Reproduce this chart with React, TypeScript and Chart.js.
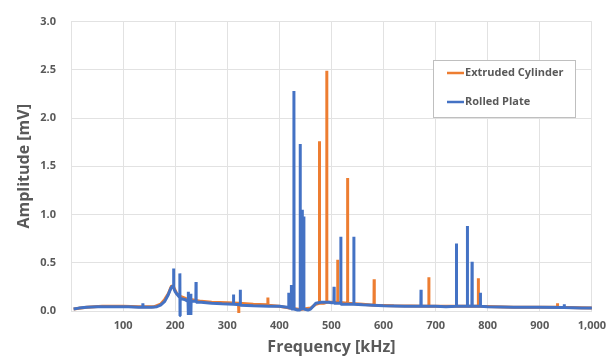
import React, { useEffect, useRef } from "react";
import { Chart, registerables } from "chart.js";

Chart.register(...registerables);

// Rolled Plate (blue) — frequency [kHz] and amplitude [mV]
const rolledFreq = [
  5, 15, 30, 50, 80, 110, 130, 137.7, 138, 138.3, 155, 165, 172, 180, 186, 192, 195,
  196.7, 197, 197.3, 200, 204, 208.7, 209, 209.3, 209.6, 218, 224.7, 225, 225.3, 225.6,
  229.7, 230, 230.3, 230.6, 239.7, 240, 240.3, 250, 270, 290, 311.7, 312, 312.3,
  324.7, 325, 325.3, 350, 380, 400, 415, 417.7, 418, 418.3, 422.7, 423, 423.3,
  427.7, 428, 428.3, 435, 439.7, 440, 440.3, 443.7, 444, 444.3, 446.7, 447, 447.3,
  455, 460, 465, 470, 480, 495, 500, 504.7, 505, 505.3, 512, 517.7, 518, 518.3,
  525, 530, 542.7, 543, 543.3, 560, 580, 600, 640, 670, 671.7, 672, 672.3,
  690, 700, 720, 739.7, 740, 740.3, 760.7, 761, 761.3, 769.7, 770, 770.3,
  785.7, 786, 786.3, 800, 850, 900, 946.7, 947, 947.3, 980, 1000,
];
const rolledAmp = [
  0.02, 0.03, 0.04, 0.045, 0.045, 0.045, 0.04, 0.04, 0.08, 0.04, 0.04, 0.045, 0.06, 0.1, 0.16, 0.24, 0.26,
  0.25, 0.44, 0.24, 0.2, 0.17, 0.14, 0.39, -0.05, 0.13, 0.12, 0.1, 0.2, -0.04, 0.1,
  0.1, 0.18, -0.04, 0.1, 0.1, 0.3, 0.09, 0.09, 0.08, 0.075, 0.07, 0.17, 0.07,
  0.065, 0.22, 0.06, 0.055, 0.05, 0.05, 0.04, 0.04, 0.19, 0.03, 0.03, 0.27, 0.02,
  0.02, 2.28, 0.02, 0.01, 0.01, 1.73, 0.02, 0.02, 1.05, 0.03, 0.03, 0.98, 0.02,
  0.01, 0.02, 0.05, 0.08, 0.09, 0.09, 0.085, 0.085, 0.25, 0.08, 0.08, 0.08, 0.77, 0.07,
  0.07, 0.07, 0.07, 0.77, 0.07, 0.065, 0.06, 0.055, 0.05, 0.05, 0.05, 0.22, 0.05,
  0.05, 0.05, 0.045, 0.05, 0.7, 0.05, 0.05, 0.88, 0.05, 0.05, 0.51, 0.05,
  0.05, 0.19, 0.05, 0.045, 0.04, 0.04, 0.035, 0.07, 0.035, 0.03, 0.03,
];

// Extruded Cylinder (orange)
const extrudedFreq = [
  5, 30, 60, 100, 130, 160, 172, 180, 187, 193, 197, 203, 210, 220, 235, 250, 270, 300,
  321.7, 322, 322.3, 350, 376, 377.7, 378, 378.3, 400, 420, 440, 460, 470,
  476.7, 477, 477.3, 485, 490.7, 491, 491.3, 500, 511.7, 512, 512.3, 530.7, 531, 531.3,
  560, 581.7, 582, 582.3, 620, 686.7, 687, 687.3, 740, 781.7, 782, 782.3, 850,
  933.7, 934, 934.3, 1000,
];
const extrudedAmp = [
  0.02, 0.04, 0.05, 0.05, 0.045, 0.045, 0.07, 0.12, 0.18, 0.26, 0.25, 0.18, 0.15, 0.13, 0.115, 0.1, 0.09, 0.085,
  0.08, -0.02, 0.08, 0.07, 0.065, 0.065, 0.14, 0.06, 0.05, 0.03, 0.015, 0.03, 0.07,
  0.08, 1.76, 0.08, 0.08, 0.09, 2.49, 0.09, 0.09, 0.09, 0.53, 0.09, 0.08, 1.38, 0.08,
  0.07, 0.06, 0.33, 0.06, 0.055, 0.05, 0.35, 0.05, 0.05, 0.05, 0.34, 0.05, 0.04,
  0.04, 0.08, 0.04, 0.03,
];

const seriesNames = ["Extruded Cylinder", "Rolled Plate"];
const seriesColors = ["#ED7D31", "#4472C4"];

const xTitle = "Frequency [kHz]";
const yTitle = "Amplitude [mV]";

const GRAY = "#595959";
const FONT = "'Open Sans', 'Liberation Sans', sans-serif";

const legendPlugin = {
  id: "insideLegend",
  afterDraw(chart: any) {
    const ctx = chart.ctx;
    const bx = 433, by = 60, bw = 142, bh = 57;
    ctx.save();
    ctx.fillStyle = "#ffffff";
    ctx.fillRect(bx, by, bw, bh);
    ctx.strokeStyle = "#bfbfbf";
    ctx.lineWidth = 1;
    ctx.strokeRect(bx + 0.5, by + 0.5, bw, bh);
    ctx.font = `bold 11px ${FONT}`;
    ctx.textBaseline = "middle";
    ctx.textAlign = "left";
    seriesNames.forEach((name, i) => {
      const y = by + 13 + i * 29;
      ctx.strokeStyle = seriesColors[i];
      ctx.lineWidth = 2.5;
      ctx.beginPath();
      ctx.moveTo(bx + 14, y);
      ctx.lineTo(bx + 31, y);
      ctx.stroke();
      ctx.fillStyle = GRAY;
      ctx.fillText(name, bx + 32, y);
    });
    ctx.restore();
  },
};

export default function App() {
  const ref = useRef<HTMLCanvasElement>(null);

  useEffect(() => {
    if (!ref.current) return;
    const toPts = (fs: number[], as: number[]) => fs.map((f, i) => ({ x: f, y: as[i] }));
    const chart = new Chart(ref.current, {
      type: "line",
      data: {
        datasets: [
          {
            label: seriesNames[1],
            data: toPts(rolledFreq, rolledAmp),
            borderColor: seriesColors[1],
            backgroundColor: seriesColors[1],
            borderWidth: 3,
            borderJoinStyle: "bevel",
            pointRadius: 0,
            tension: 0,
            order: 0,
            clip: 10,
          },
          {
            label: seriesNames[0],
            data: toPts(extrudedFreq, extrudedAmp),
            borderColor: seriesColors[0],
            backgroundColor: seriesColors[0],
            borderWidth: 3,
            borderJoinStyle: "bevel",
            pointRadius: 0,
            tension: 0,
            order: 1,
            clip: 10,
          },
        ],
      },
      options: {
        responsive: false,
        animation: false,
        layout: { padding: { left: 0, right: 19, top: 13, bottom: 0 } },
        plugins: { legend: { display: false }, tooltip: { enabled: false } },
        scales: {
          x: {
            type: "linear",
            min: 0,
            max: 1000,
            afterFit: (s: any) => {
              s.height = 50;
            },
            ticks: {
              stepSize: 100,
              padding: 8,
              color: GRAY,
              font: { family: FONT, size: 11, weight: "bold" },
              maxRotation: 0,
              callback: (v: any) => (v === 0 ? "" : Number(v).toLocaleString("en-US")),
            },
            grid: { color: "#e2e2e2", drawTicks: false },
            border: { color: "#e2e2e2" },
            title: {
              display: true,
              text: xTitle,
              color: GRAY,
              font: { family: FONT, size: 16, weight: "bold" },
              padding: { top: 4, bottom: 4 },
            },
          },
          y: {
            min: 0,
            max: 3,
            afterFit: (s: any) => {
              s.width = 71;
            },
            ticks: {
              stepSize: 0.5,
              padding: 15,
              color: GRAY,
              font: { family: FONT, size: 11, weight: "bold" },
              callback: (v: any) => Number(v).toFixed(1),
            },
            grid: { color: "#e2e2e2", drawTicks: false },
            border: { color: "#e2e2e2" },
            title: {
              display: true,
              text: yTitle,
              color: GRAY,
              font: { family: FONT, size: 16, weight: "bold" },
              padding: { top: 15, bottom: 4 },
            },
          },
        },
      },
      plugins: [legendPlugin],
    });
    return () => chart.destroy();
  }, []);

  return (
    <div style={{ position: "absolute", left: 0, top: 0, width: 614, height: 361, background: "#fff" }}>
      <canvas ref={ref} width={614} height={361} />
    </div>
  );
}
